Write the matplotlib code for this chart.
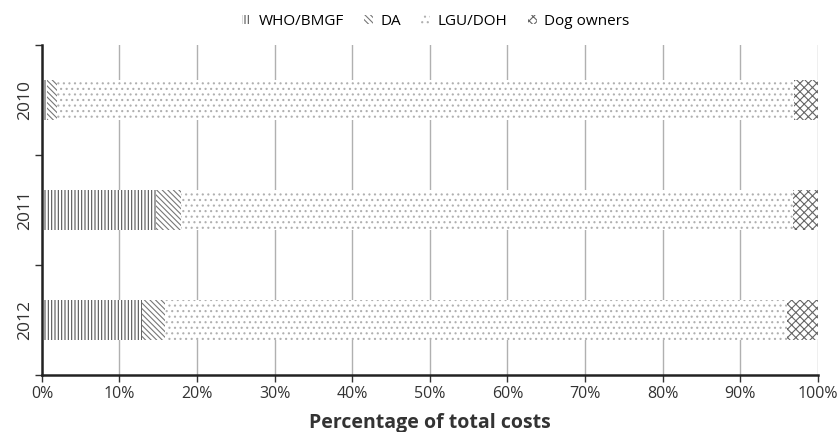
import numpy as np
import matplotlib
matplotlib.use("Agg")
import matplotlib.pyplot as plt
from matplotlib.patches import Patch

years = ["2010", "2011", "2012"]
series = ["WHO/BMGF", "DA", "LGU/DOH", "Dog owners"]
who = [0.6, 14.7, 12.9]
da = [1.3, 3.2, 3.0]
lgu = [95.0, 78.9, 80.1]
dogs = [3.1, 3.2, 4.0]
xticks = np.arange(0, 101, 10)

hatches = ["|||||", "\\\\\\\\\\\\", "...", "xxxx"]
hatch_cols = ["#555555", "#777777", "#b0b0b0", "#666666"]

plt.rcParams["font.family"] = ["Open Sans", "DejaVu Sans"]
plt.rcParams["hatch.linewidth"] = 0.8

fig = plt.figure(figsize=(8.38, 4.32), dpi=100)
ax = fig.add_axes([0.050, 0.132, 0.926, 0.764])

y = np.arange(len(years))
left = np.zeros(len(years))
for vals, h, c in zip([who, da, lgu, dogs], hatches, hatch_cols):
    ax.barh(y, vals, left=left, height=0.37, color="white", edgecolor=c,
            hatch=h, linewidth=0, zorder=2)
    left += np.array(vals)

ax.set_xlim(0, 100)
ax.set_ylim(2.5, -0.5)
ax.set_xticks(xticks)
ax.set_xticklabels([f"{v}%" for v in xticks], fontsize=11.5, color="#333333")
ax.set_yticks(y)
ax.set_yticklabels(years, rotation=90, va="center", fontsize=12.5, color="#333333")
ax.tick_params(axis="y", length=0, pad=6)
ax.set_yticks([-0.5, 0.5, 1.5, 2.5], minor=True)
ax.tick_params(axis="y", which="minor", length=5, width=1, color="#333333")
ax.tick_params(axis="x", length=5, width=1, color="#333333", pad=3)
ax.xaxis.grid(True, color="#b0b0b0", linewidth=1, zorder=0)
ax.set_axisbelow(True)
for s in ["top", "right"]:
    ax.spines[s].set_visible(False)
ax.spines["left"].set_linewidth(1.8)
ax.spines["bottom"].set_linewidth(1.8)
ax.spines["left"].set_color("#222222")
ax.spines["bottom"].set_color("#222222")

ax.set_xlabel("Percentage of total costs", fontsize=14, fontweight="bold",
              color="#333333", labelpad=8)

handles = [Patch(facecolor="white", edgecolor=c, hatch=h, linewidth=0)
           for h, c in zip(hatches, hatch_cols)]
fig.legend(handles, series, loc="upper center", ncol=4, frameon=False,
           bbox_to_anchor=(0.52, 1.0), fontsize=11, handlelength=0.6,
           handleheight=0.6, columnspacing=1.3, handletextpad=0.5)

fig.savefig("out.png", dpi=100)
